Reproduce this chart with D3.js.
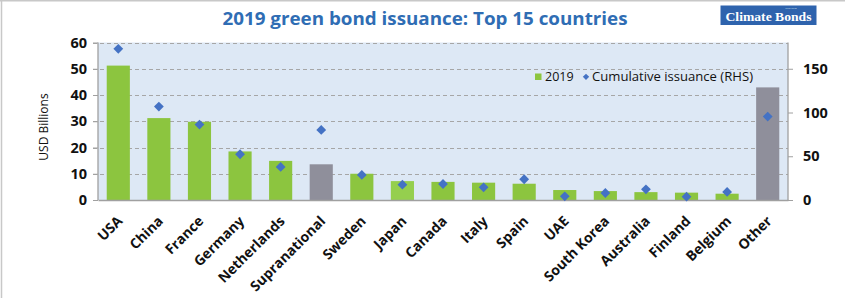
<!DOCTYPE html>
<html>
<head>
<meta charset="UTF-8">
<title>2019 green bond issuance</title>
<script src="https://d3js.org/d3.v7.min.js"></script>
<style>
  body { margin: 0; background: #fff; }
  svg { display: block; font-family: "Open Sans", "Noto Sans", sans-serif; }
</style>
</head>
<body>
<svg id="chart" width="845" height="298"></svg>
<script>
// chart values
var countries = ["USA", "China", "France", "Germany", "Netherlands", "Supranational", "Sweden", "Japan",
    "Canada", "Italy", "Spain", "UAE", "South Korea", "Australia", "Finland", "Belgium", "Other"];
var issuance2019 = [51.2, 31.2, 29.8, 18.5, 14.9, 13.6, 10.0, 7.2, 6.9, 6.6, 6.2, 3.8, 3.4, 3.0, 2.8, 2.4, 42.9];
var cumulative = [172.8, 106.8, 86.2, 52.3, 37.8, 80.1, 28.6, 17.5, 18.3, 14.5, 23.7, 4.2, 8.0, 12.2, 3.8, 9.2, 95.3];
var leftTicks = [0, 10, 20, 30, 40, 50, 60];
var rightTicks = [0, 50, 100, 150];

var svg = d3.select("#chart");

var plotLeft = 98, plotRight = 788, plotTop = 42.5, plotBottom = 200;

var x = d3.scaleBand().domain(countries).range([plotLeft, plotRight]).paddingInner(0.43).paddingOuter(0.215);
var yL = d3.scaleLinear().domain([0, 60]).range([plotBottom, plotTop]);
var yR = d3.scaleLinear().domain([0, 180]).range([plotBottom, plotTop]);

// outer frame (only top and left visible in the reference)
svg.append("line").attr("x1", 1.5).attr("x2", 1.5).attr("y1", 0).attr("y2", 298)
    .attr("stroke", "#c8c8c8").attr("stroke-width", 1.5);
svg.append("line").attr("x1", 0).attr("x2", 845).attr("y1", 0.75).attr("y2", 0.75)
    .attr("stroke", "#c8c8c8").attr("stroke-width", 1.5);

// title
svg.append("text")
    .attr("x", 425).attr("y", 25)
    .attr("text-anchor", "middle")
    .attr("font-size", 18).attr("font-weight", "bold")
    .attr("fill", "#2f6db4")
    .attr("textLength", 405).attr("lengthAdjust", "spacingAndGlyphs")
    .text("2019 green bond issuance: Top 15 countries");

// logo
var logo = svg.append("g");
logo.append("rect").attr("x", 720.5).attr("y", 5.5).attr("width", 96).attr("height", 19.5).attr("fill", "#2e63ad");
logo.append("text").attr("x", 768.5).attr("y", 21).attr("text-anchor", "middle")
    .attr("font-family", "'Liberation Serif', 'DejaVu Serif', serif").attr("font-weight", "bold")
    .attr("font-size", 13.5).attr("fill", "#fff")
    .attr("textLength", 86).attr("lengthAdjust", "spacingAndGlyphs")
    .text("Climate Bonds");
logo.append("text").attr("x", 791).attr("y", 9.2).attr("text-anchor", "middle")
    .attr("font-size", 2.4).attr("fill", "#dfe8f5").text("INITIATIVE");

// plot background
svg.append("rect").attr("x", plotLeft).attr("y", plotTop)
    .attr("width", plotRight - plotLeft).attr("height", plotBottom - plotTop)
    .attr("fill", "#dde8f5");

// gridlines
svg.append("g").selectAll("line").data(leftTicks.filter(function (d) { return d > 0; }))
    .enter().append("line")
    .attr("x1", plotLeft - 5).attr("x2", plotRight)
    .attr("y1", function (d) { return Math.round(yL(d)) + 0.5; })
    .attr("y2", function (d) { return Math.round(yL(d)) + 0.5; })
    .attr("stroke", "#a6a6a6").attr("stroke-dasharray", "4,3");

// bars
svg.append("g").selectAll("rect").data(countries)
    .enter().append("rect")
    .attr("x", function (d) { return x(d); })
    .attr("width", x.bandwidth())
    .attr("y", function (d, i) { return yL(issuance2019[i]); })
    .attr("height", function (d, i) { return plotBottom - yL(issuance2019[i]); })
    .attr("fill", function (d) {
        if (d == "Supranational" || d == "Other") return "#8f8f9b";
        if (d == "Japan") return "#95cf4e";
        return "#8cc53f";
    });

// axes
var axisColor = "#a0a0a0";
var gL = svg.append("g").attr("transform", "translate(" + plotLeft + ",0)")
    .call(d3.axisLeft(yL).tickValues(leftTicks).tickSize(5).tickPadding(6));
var gR = svg.append("g").attr("transform", "translate(" + plotRight + ",0)")
    .call(d3.axisRight(yR).tickValues(rightTicks).tickSize(5).tickPadding(10));
var gX = svg.append("g").attr("transform", "translate(0," + plotBottom + ")")
    .call(d3.axisBottom(x).tickSize(0).tickFormat(""));

[gL, gR, gX].forEach(function (g) {
    g.select(".domain").attr("stroke", axisColor).attr("stroke-width", 1.3);
    g.selectAll(".tick line").attr("stroke", axisColor);
    g.selectAll(".tick text").attr("font-family", "'Open Sans', sans-serif")
        .attr("font-size", 14.5).attr("font-weight", "bold").attr("fill", "#111");
});
gL.select(".domain").attr("d", "M0," + plotTop + "V" + plotBottom);
gR.select(".domain").attr("d", "M0," + plotTop + "V" + plotBottom);

// category labels
svg.append("g").selectAll("text").data(countries)
    .enter().append("text")
    .attr("transform", function (d) {
        return "translate(" + (x(d) + x.bandwidth() / 2 + 5) + "," + 222 + ") rotate(-45)";
    })
    .attr("text-anchor", "end")
    .attr("font-size", 14).attr("font-weight", "bold").attr("fill", "#111")
    .text(function (d) { return d; });

// cumulative markers
var diamond = d3.symbol().type(d3.symbolSquare).size(48);
svg.append("g").selectAll("path").data(countries)
    .enter().append("path")
    .attr("d", diamond)
    .attr("transform", function (d, i) {
        return "translate(" + (x(d) + x.bandwidth() / 2) + "," + yR(cumulative[i]) + ") rotate(45)";
    })
    .attr("fill", "#4472c4");

// y axis title
svg.append("text")
    .attr("transform", "translate(48,127) rotate(-90)")
    .attr("text-anchor", "middle")
    .attr("font-size", 12).attr("fill", "#111")
    .text("USD Billions");

// legend
var legend = svg.append("g");
legend.append("rect").attr("x", 535).attr("y", 73.5).attr("width", 6.5).attr("height", 6.5).attr("fill", "#8cc53f");
legend.append("text").attr("x", 545).attr("y", 81).attr("font-size", 12.5).attr("fill", "#111").text("2019");
legend.append("path").attr("d", d3.symbol().type(d3.symbolSquare).size(20))
    .attr("transform", "translate(586,76.8) rotate(45)").attr("fill", "#4472c4");
legend.append("text").attr("x", 592).attr("y", 81).attr("font-size", 12.5).attr("fill", "#111")
    .attr("textLength", 161).attr("lengthAdjust", "spacingAndGlyphs")
    .text("Cumulative issuance (RHS)");
</script>
</body>
</html>
